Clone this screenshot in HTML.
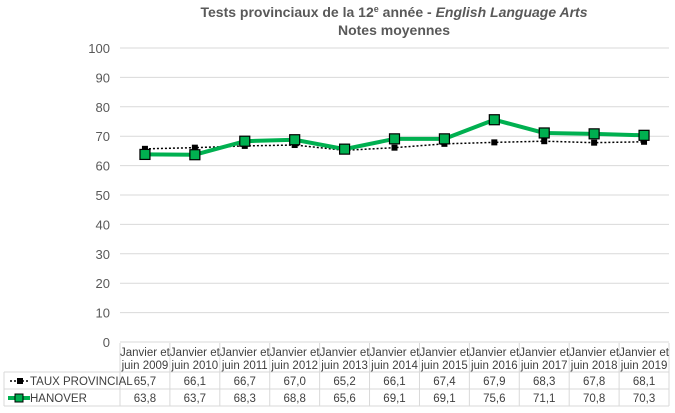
<!DOCTYPE html>
<html><head><meta charset="utf-8"><style>
body{margin:0;background:#fff;font-family:"Liberation Sans",sans-serif;}
svg text{font-family:"Liberation Sans",sans-serif;}
</style></head><body>
<svg id="c" width="675" height="408">
<text x="394" y="17" text-anchor="middle" font-size="14" font-weight="bold" fill="#595959">Tests provinciaux de la 12<tspan font-size="9" dy="-5">e</tspan><tspan dy="5"> année - </tspan><tspan font-style="italic">English Language Arts</tspan></text>
<text x="394" y="35" text-anchor="middle" font-size="14" font-weight="bold" fill="#595959">Notes moyennes</text>
<g id="grid"></g><g id="table"></g><g id="series"></g>
</svg>
<script>
const categories=["2009","2010","2011","2012","2013","2014","2015","2016","2017","2018","2019"];
const provincial=[65.7,66.1,66.7,67.0,65.2,66.1,67.4,67.9,68.3,67.8,68.1];
const hanover=[63.8,63.7,68.3,68.8,65.6,69.1,69.1,75.6,71.1,70.8,70.3];
const yTicks=[0,10,20,30,40,50,60,70,80,90,100];
const NS="http://www.w3.org/2000/svg";
const x0=120,x1=669,y0=342,y1=48;
const cw=(x1-x0)/categories.length;
const X=i=>x0+cw*(i+0.5);
const Y=v=>y0-(v/100)*(y0-y1);
function mk(t,a,p){const e=document.createElementNS(NS,t);for(const k in a)e.setAttribute(k,a[k]);p.appendChild(e);return e;}
const grid=document.getElementById('grid'),tbl=document.getElementById('table'),ser=document.getElementById('series');
yTicks.forEach(v=>{
 const l=mk('line',{x1:x0,x2:x1,y1:Y(v),y2:Y(v),stroke:'#d9d9d9','stroke-width':1},grid);
 
 
 const t=mk('text',{x:110,y:Y(v)+5,'text-anchor':'end','font-size':13,fill:'#595959'},grid);
 t.textContent=v;
 
 
});
// table
const ty0=343,ty1=372,ty2=389,ty3=406;
[ty1,ty2,ty3].forEach(y=>{mk('line',{x1:4,x2:x1,y1:y,y2:y,stroke:'#d9d9d9'},tbl);});
for(let i=0;i<=categories.length;i++){mk('line',{x1:x0+cw*i,x2:x0+cw*i,y1:ty0,y2:ty3,stroke:'#d9d9d9'},tbl);}
mk('line',{x1:4,x2:4,y1:ty1,y2:ty3,stroke:'#d9d9d9'},tbl);
categories.forEach((c,i)=>{
 const t1=mk('text',{x:X(i),y:356,'text-anchor':'middle','font-size':11.5,fill:'#404040'},tbl);t1.textContent='Janvier et';
 
 
 const t2=mk('text',{x:X(i),y:369,'text-anchor':'middle','font-size':11.5,fill:'#404040'},tbl);t2.textContent='juin '+c;
 const a=mk('text',{x:X(i),y:385,'text-anchor':'middle','font-size':11.5,fill:'#404040'},tbl);a.textContent=provincial[i].toFixed(1).replace('.',',');
 
 
 const b=mk('text',{x:X(i),y:402,'text-anchor':'middle','font-size':11.5,fill:'#404040'},tbl);b.textContent=hanover[i].toFixed(1).replace('.',',');
 
 
});
// legend keys
mk('line',{x1:10,x2:30,y1:381,y2:381,stroke:'#000','stroke-width':1.5,'stroke-dasharray':'2,2'},tbl);
mk('rect',{x:17,y:378,width:6,height:6,fill:'#000'},tbl);
const lt1=mk('text',{x:30,y:385,'font-size':11.5,fill:'#404040'},tbl);lt1.textContent='TAUX PROVINCIAL';


mk('line',{x1:8,x2:30,y1:398,y2:398,stroke:'#00b050','stroke-width':4},tbl);
mk('rect',{x:15,y:394,width:8,height:8,fill:'#00b050',stroke:'#000'},tbl);
const lt2=mk('text',{x:30,y:402,'font-size':11.5,fill:'#404040'},tbl);lt2.textContent='HANOVER';


// series
const pp=mk('polyline',{points:provincial.map((v,i)=>X(i)+','+Y(v)).join(' '),fill:'none',stroke:'#000','stroke-width':1.5,'stroke-dasharray':'2,2'},ser);


provincial.forEach((v,i)=>{const r=mk('rect',{x:X(i)-3,y:Y(v)-3,width:6,height:6,fill:'#000'},ser);
 
 });
const hp=mk('polyline',{points:hanover.map((v,i)=>X(i)+','+Y(v)).join(' '),fill:'none',stroke:'#00b050','stroke-width':4},ser);


hanover.forEach((v,i)=>{const r=mk('rect',{x:X(i)-5,y:Y(v)-5,width:10,height:10,fill:'#00b050',stroke:'#000','stroke-width':1.2},ser);
 
 });
</script>
</body></html>
